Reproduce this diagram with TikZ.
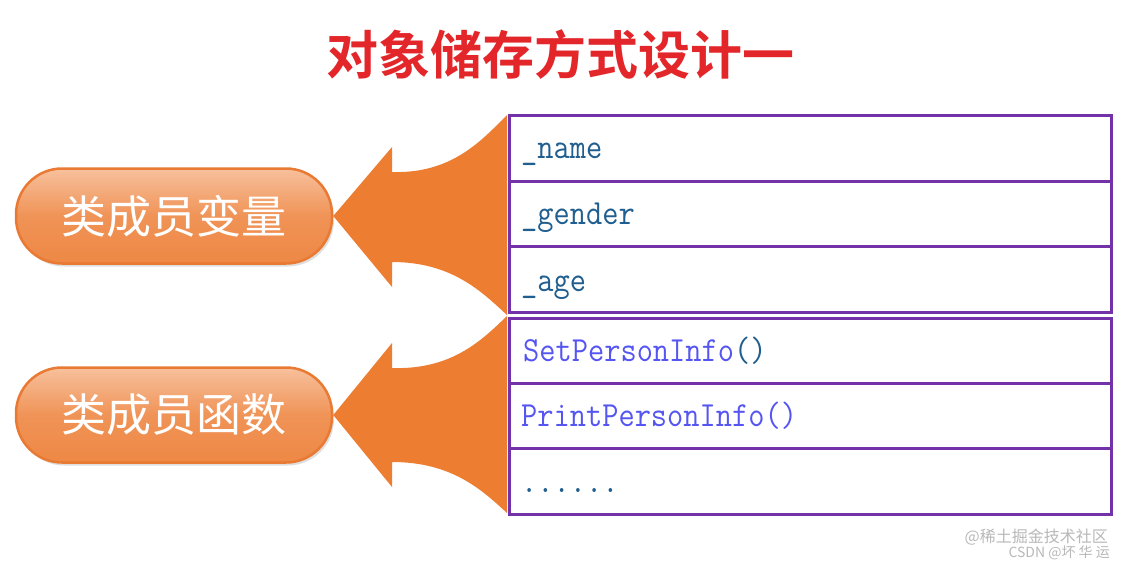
\documentclass[tikz,border=0pt]{standalone}
\usepackage{fontspec}
\usepackage{graphicx}
\newfontfamily\cjk{Noto Sans CJK SC}
\newfontfamily\cjkb{Noto Sans CJK SC Bold}
\usetikzlibrary{shadows,calc}
\definecolor{titlered}{HTML}{E3262A}
\definecolor{arroworange}{HTML}{ED7D31}
\definecolor{boxborder}{HTML}{E97A33}
\definecolor{boxtop}{HTML}{F7C09C}
\definecolor{boxbot}{HTML}{EE8845}
\definecolor{rowpurple}{HTML}{7432A8}
\definecolor{codeteal}{HTML}{1F5E8E}
\definecolor{codeviolet}{HTML}{5555F2}
\definecolor{wm}{HTML}{B8B8B8}
\newcommand{\tall}[1]{\scalebox{1}[1.12]{#1}}
\tikzset{
  member/.style={draw=boxborder, line width=2.5pt, rounded corners=46pt,
    top color=boxtop, bottom color=boxbot, middle color=boxbot!80!boxtop,
    minimum width=316pt, minimum height=95pt,
    drop shadow={shadow xshift=2pt, shadow yshift=-3pt, opacity=0.25},
    text=white, font=\cjk\fontsize{45}{45}\selectfont, inner sep=0pt},
  rowbox/.style={draw=rowpurple, line width=3pt, fill=white,
    minimum width=602pt, minimum height=65.5pt, anchor=north west, inner sep=0pt},
  codetxt/.style={anchor=base west, inner sep=0pt, font=\ttfamily\fontsize{31.5}{31.5}\selectfont},
  bigarrow/.style={fill=arroworange},
  watermark/.style={text=wm, inner sep=0pt, font=\cjk\fontsize{16}{16}\selectfont}
}
\begin{document}
\begin{tikzpicture}[x=1pt,y=-1pt]
\useasboundingbox (0,0) rectangle (1124,568);
% title
\node[text=titlered, font=\cjkb\fontsize{52}{52}\selectfont, inner sep=0pt] (title) at (560,55) {对象储存方式设计一};
% member boxes
\node[member] (var) at (174,216) {类成员变量};
\node[member] (fun) at (174,415) {类成员函数};
% big arrows
\fill[bigarrow] (var.east) -- (392,147) -- (392,172)
  .. controls (452,174) and (482,140) .. (507,115)
  -- (507,315)
  .. controls (482,292) and (452,262) .. (392,262)
  -- (392,287) -- cycle;
\fill[bigarrow] (fun.east) -- (392,343) -- (392,368)
  .. controls (452,370) and (482,340) .. (507,316)
  -- (507,513)
  .. controls (482,490) and (452,462) .. (392,462)
  -- (392,487) -- cycle;
% table rows
\node[rowbox] (r1) at (508,114) {};
\node[rowbox] (r2) at (508,179.5) {};
\node[rowbox] (r3) at (508,245) {};
\node[rowbox] (r4) at (508,317) {};
\node[rowbox] (r5) at (508,382) {};
\node[rowbox] (r6) at (508,447) {};
% texts
\node[codetxt, text=codeteal] (t1) at (521,158) {\tall{\_name}};
\node[codetxt, text=codeteal] (t2) at (521,224) {\tall{\_gender}};
\node[codetxt, text=codeteal] (t3) at (521,291) {\tall{\_age}};
\node[codetxt] (t4) at (523,361) {\tall{\textcolor{codeviolet}{SetPersonInfo}\textcolor{codeteal}{()}}};
\node[codetxt, text=codeviolet] (t5) at (521,426) {\tall{PrintPersonInfo()}};
\node[codetxt, text=codeteal] (t6) at (521,492) {\tall{......}};
% watermark
\node[watermark, anchor=east] (wm1) at (1108,537) {@稀土掘金技术社区};
\node[watermark, anchor=east, font=\cjk\fontsize{14}{14}\selectfont] (wm2) at (1110,553) {CSDN @坏 华 运};
\end{tikzpicture}
\end{document}
